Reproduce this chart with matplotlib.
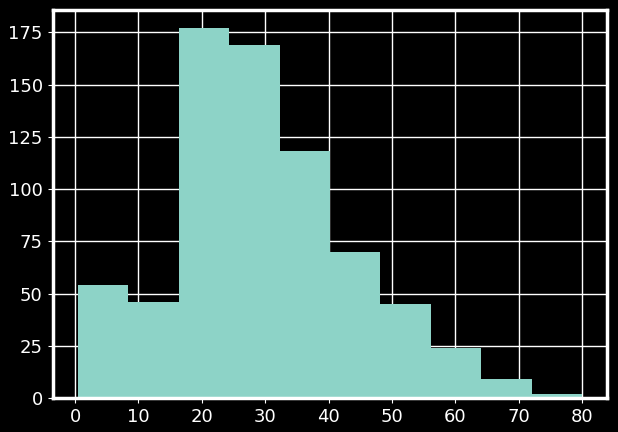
import numpy as np
import matplotlib
matplotlib.use("Agg")
import matplotlib.pyplot as plt

# histogram counts (10 bins between min and max age)
age_min = 0.42
age_max = 80.0
counts = [54, 46, 177, 169, 118, 70, 45, 24, 9, 2]

plt.style.use("dark_background")
plt.rcParams["font.size"] = 13
plt.rcParams["axes.linewidth"] = 2.5

edges = np.linspace(age_min, age_max, len(counts) + 1)
centers = (edges[:-1] + edges[1:]) / 2

fig, ax = plt.subplots(figsize=(6.18, 4.32), dpi=100)
fig.subplots_adjust(left=0.085, right=0.983, top=0.978, bottom=0.078)
ax.grid(True, color="white", linewidth=1)
ax.set_axisbelow(True)
ax.hist(centers, bins=edges, weights=counts, color="#8dd3c7")
ax.set_xticks(range(0, 81, 10))
ax.set_yticks(range(0, 176, 25))

fig.savefig("out.png", dpi=100)
